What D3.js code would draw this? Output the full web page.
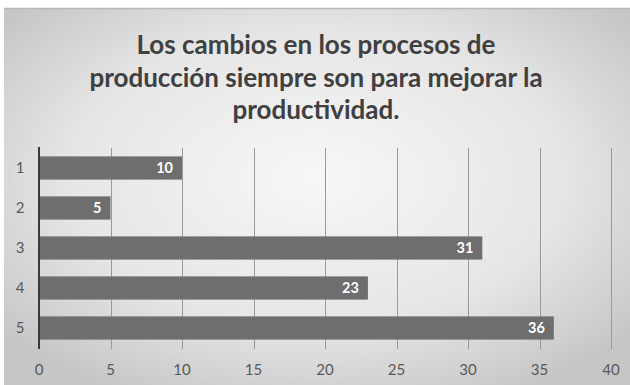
<!DOCTYPE html>
<html><head><meta charset="utf-8">
<script src="https://cdn.jsdelivr.net/npm/d3@7"></script>
<style>body{margin:0;background:#fff}svg{display:block}</style>
</head><body>
<script>
const categories = ["1","2","3","4","5"];
const values = [10,5,31,23,36];
const xTicks = [0,5,10,15,20,25,30,35,40];
const titleLines = ["Los cambios en los procesos de","producción siempre son para mejorar la","productividad."];

const W=630,H=385;
const svg=d3.select("body").append("svg").attr("width",W).attr("height",H);
const defs=svg.append("defs");
const rg=defs.append("radialGradient").attr("id","bg").attr("cx","50%").attr("cy","45%").attr("r","65%");
rg.append("stop").attr("offset","0%").attr("stop-color","#f7f7f7");
rg.append("stop").attr("offset","60%").attr("stop-color","#e6e6e6");
rg.append("stop").attr("offset","100%").attr("stop-color","#c6c6c6");
svg.append("rect").attr("x",4).attr("y",8).attr("width",W-4).attr("height",H-8).attr("fill","url(#bg)");
svg.append("line").attr("x1",4).attr("x2",W).attr("y1",8.5).attr("y2",8.5).attr("stroke","#b8b8b8").attr("stroke-width",1.5);

const t=svg.append("text").attr("text-anchor","middle").attr("font-family","Lato, 'Open Sans', sans-serif")
 .attr("font-weight","bold").attr("font-size",26).attr("fill","#404040");
titleLines.forEach((s,i)=>t.append("tspan").attr("x",316).attr("y",54+i*32.5).text(s));

const x=d3.scaleLinear().domain([0,40]).range([39,611]);
const y=d3.scaleBand().domain(categories).range([148,348]).paddingInner(0.42).paddingOuter(0.21);

const g=svg.append("g");
g.selectAll("line.grid").data(xTicks.slice(1)).join("line").attr("class","grid")
 .attr("x1",d=>Math.round(x(d))+0.5).attr("x2",d=>Math.round(x(d))+0.5).attr("y1",148).attr("y2",349)
 .attr("stroke","#9a9a9a").attr("stroke-width",1);

g.selectAll("rect.bar").data(values).join("rect").attr("class","bar")
 .attr("x",x(0)).attr("y",(d,i)=>y(categories[i])).attr("width",d=>x(d)-x(0)).attr("height",y.bandwidth())
 .attr("fill","#6e6e6e");

g.append("line").attr("x1",39).attr("x2",39).attr("y1",147).attr("y2",349).attr("stroke","#3a3a3a").attr("stroke-width",2);

g.selectAll("text.val").data(values).join("text").attr("class","val")
 .attr("x",d=>x(d)-9).attr("y",(d,i)=>y(categories[i])+y.bandwidth()/2).attr("dy","0.36em")
 .attr("text-anchor","end").attr("font-family","Lato, 'Open Sans', sans-serif").attr("font-weight","bold")
 .attr("font-size",14.5).attr("fill","#ffffff").text(d=>d);

g.selectAll("text.cat").data(categories).join("text").attr("class","cat")
 .attr("x",20).attr("y",d=>y(d)+y.bandwidth()/2).attr("dy","0.36em").attr("text-anchor","middle")
 .attr("font-family","Lato, 'Open Sans', sans-serif").attr("font-size",15).attr("fill","#595959").text(d=>d);

g.selectAll("text.xt").data(xTicks).join("text").attr("class","xt")
 .attr("x",d=>x(d)).attr("y",370).attr("dy","0.36em").attr("text-anchor","middle")
 .attr("font-family","Lato, 'Open Sans', sans-serif").attr("font-size",15).attr("fill","#595959").text(d=>d);
</script>
</body></html>
